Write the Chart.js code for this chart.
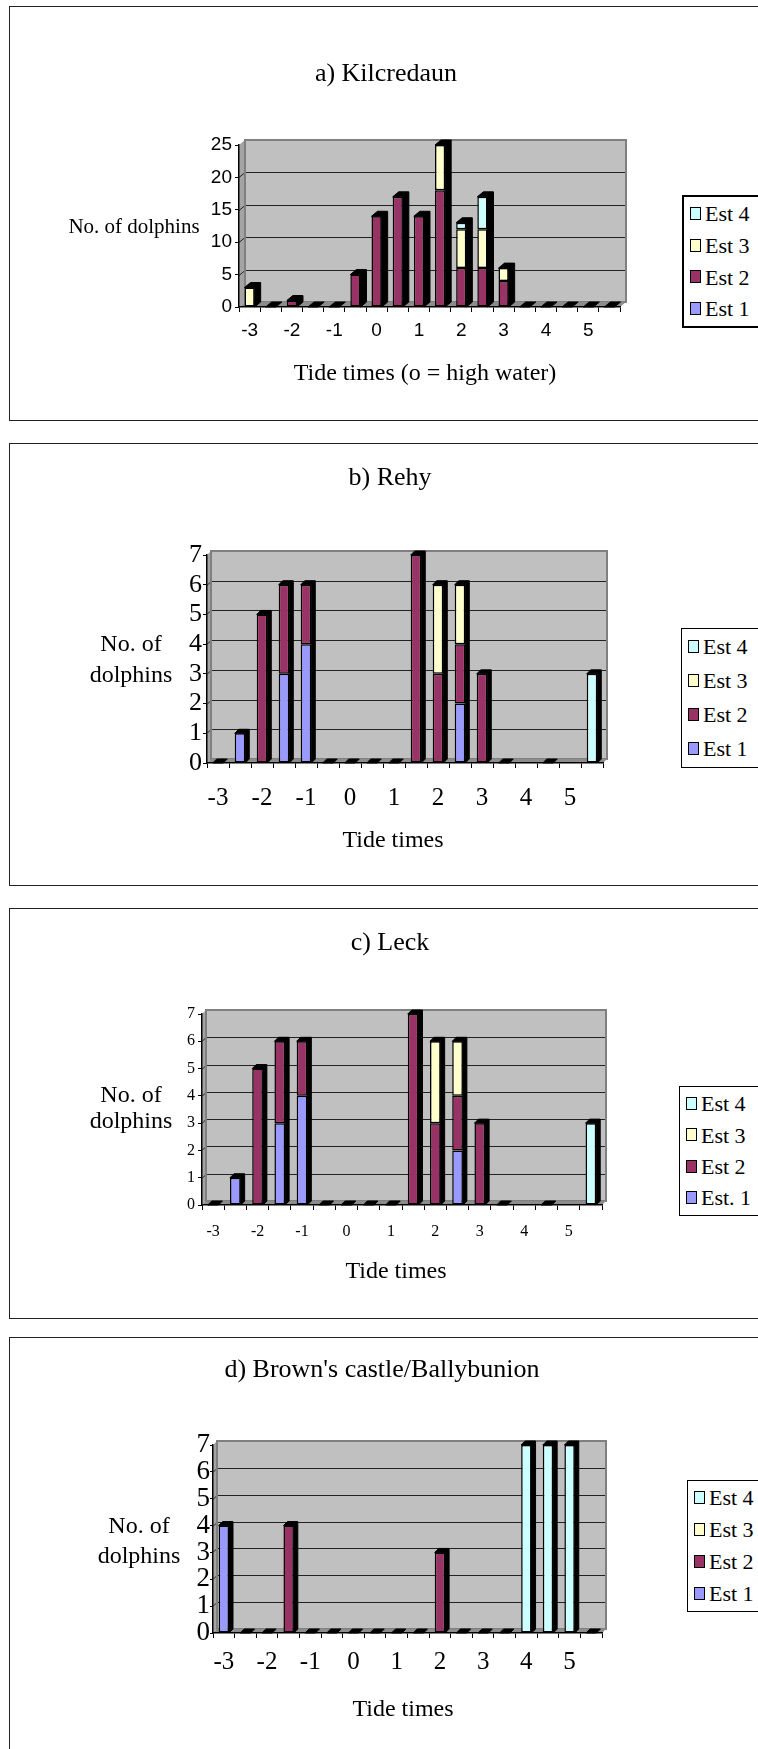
<!DOCTYPE html>
<html>
	<head>
		<meta charset="utf-8">
		<script src="https://cdnjs.cloudflare.com/ajax/libs/Chart.js/4.4.1/chart.umd.min.js"></script>
		<style>
			html, body { margin: 0; padding: 0; background: #fff; overflow: hidden; }
			body { width: 758px; height: 1749px; position: relative; }
			.panel { position: absolute; left: 9px; width: 820px; box-sizing: border-box; border: 1px solid #222; background: #fff; }
			.plot { position: absolute; left: 0; width: 758px; }
			.txt { position: absolute; text-align: center; white-space: nowrap; font-family: "Liberation Serif", "Times New Roman", serif; color: #000; }
			.legend { position: absolute; width: 120px; border: 1px solid #000; background: #fff; padding: 1px 0; font-family: "Liberation Serif", "Times New Roman", serif; font-size: 22px; color: #000; }
			.legend .row { position: relative; white-space: nowrap; }
			.legend .sw { position: absolute; left: 6px; width: 9px; height: 11px; border: 1.5px solid #000; }
			.legend .name { position: absolute; left: 21px; top: 0; }
		</style>
		<script>

			// x categories: half-hour steps from -3 to 5.5, labelled every hour
			var tideLabels = ['-3', '', '-2', '', '-1', '', '0', '', '1', '', '2', '', '3', '', '4', '', '5', ''];

			var estNames = ['Est 1', 'Est 2', 'Est 3', 'Est 4'];
			var leckNames = ['Est. 1', 'Est 2', 'Est 3', 'Est 4'];
			var estColors = ['#9999ff', '#993366', '#ffffcc', '#ccffff'];

			// a) Kilcredaun
			var kilTicks = [0, 5, 10, 15, 20, 25];
			var kilEst1 = [0, 0, 0, 0, 0, 0, 0, 0, 0, 0, 0, 0, 0, 0, 0, 0, 0, 0];
			var kilEst2 = [0, 0, 1, 0, 0, 5, 14, 17, 14, 18, 6, 6, 4, 0, 0, 0, 0, 0];
			var kilEst3 = [3, 0, 0, 0, 0, 0, 0, 0, 0, 7, 6, 6, 2, 0, 0, 0, 0, 0];
			var kilEst4 = [0, 0, 0, 0, 0, 0, 0, 0, 0, 0, 1, 5, 0, 0, 0, 0, 0, 0];

			// b) Rehy  (null = no observation)
			var rehyTicks = [0, 1, 2, 3, 4, 5, 6, 7];
			var rehyEst1 = [0, 1, 0, 3, 4, 0, 0, 0, 0, 0, 0, 2, 0, 0, null, 0, null, 0];
			var rehyEst2 = [0, 0, 5, 3, 2, 0, 0, 0, 0, 7, 3, 2, 3, 0, null, 0, null, 0];
			var rehyEst3 = [0, 0, 0, 0, 0, 0, 0, 0, 0, 0, 3, 2, 0, 0, null, 0, null, 0];
			var rehyEst4 = [0, 0, 0, 0, 0, 0, 0, 0, 0, 0, 0, 0, 0, 0, null, 0, null, 3];

			// c) Leck
			var leckTicks = [0, 1, 2, 3, 4, 5, 6, 7];
			var leckEst1 = [0, 1, 0, 3, 4, 0, 0, 0, 0, 0, 0, 2, 0, 0, null, 0, null, 0];
			var leckEst2 = [0, 0, 5, 3, 2, 0, 0, 0, 0, 7, 3, 2, 3, 0, null, 0, null, 0];
			var leckEst3 = [0, 0, 0, 0, 0, 0, 0, 0, 0, 0, 3, 2, 0, 0, null, 0, null, 0];
			var leckEst4 = [0, 0, 0, 0, 0, 0, 0, 0, 0, 0, 0, 0, 0, 0, null, 0, null, 3];

			// d) Brown's castle/Ballybunion
			var brownTicks = [0, 1, 2, 3, 4, 5, 6, 7];
			var brownEst1 = [4, 0, 0, 0, 0, 0, 0, 0, 0, 0, 0, 0, 0, 0, 0, 0, 0, 0];
			var brownEst2 = [0, 0, 0, 4, 0, 0, 0, 0, 0, 0, 3, 0, 0, 0, 0, 0, 0, 0];
			var brownEst3 = [0, 0, 0, 0, 0, 0, 0, 0, 0, 0, 0, 0, 0, 0, 0, 0, 0, 0];
			var brownEst4 = [0, 0, 0, 0, 0, 0, 0, 0, 0, 0, 0, 0, 0, 0, 7, 7, 7, 0];

			var Y_W = 40;
			var X_H = 70;

			var panels = [
				{ top: 6, height: 415,
					title: 'a) Kilcredaun', titleAt: [386, 73],
					yTitle: ['No. of dolphins'], yTitleAt: [134, 226], yTitleSize: 21, yTitleGap: 0,
					xTitle: 'Tide times (o = high water)', xTitleAt: [425, 372],
					plot: { left: 239, right: 620, top: 145, bottom: 307 }, depth: [6, 5],
					ticks: kilTicks, xFont: { family: 'Liberation Sans', size: 19 }, yFont: { family: 'Liberation Sans', size: 19 },
					yTickLen: 4, yTickPad: 3, xTickY: 331,
					series: [kilEst1, kilEst2, kilEst3, kilEst4], names: estNames,
					legend: { left: 682, firstRow: 214, rowH: 31.7, border: 2 } },
				{ top: 443, height: 443,
					title: 'b) Rehy', titleAt: [390, 477],
					yTitle: ['No. of', 'dolphins'], yTitleAt: [131, 643], yTitleSize: 24, yTitleGap: 31,
					xTitle: 'Tide times', xTitleAt: [393, 839],
					plot: { left: 207, right: 603, top: 555, bottom: 763 }, depth: [4, 4],
					ticks: rehyTicks, xFont: { family: 'Liberation Serif', size: 25 }, yFont: { family: 'Liberation Serif', size: 26 },
					yTickLen: 4, yTickPad: 1, xTickY: 798,
					series: [rehyEst1, rehyEst2, rehyEst3, rehyEst4], names: estNames,
					legend: { left: 681, firstRow: 647, rowH: 34, border: 1 } },
				{ top: 908, height: 411,
					title: 'c) Leck', titleAt: [390, 942],
					yTitle: ['No. of', 'dolphins'], yTitleAt: [131, 1094], yTitleSize: 24, yTitleGap: 26,
					xTitle: 'Tide times', xTitleAt: [396, 1270],
					plot: { left: 202, right: 602, top: 1014, bottom: 1205 }, depth: [4, 4],
					ticks: leckTicks, xFont: { family: 'Liberation Serif', size: 16 }, yFont: { family: 'Liberation Serif', size: 16 },
					yTickLen: 4, yTickPad: 3, xTickY: 1232,
					series: [leckEst1, leckEst2, leckEst3, leckEst4], names: leckNames,
					legend: { left: 679, firstRow: 1104, rowH: 31.3, border: 1 } },
				{ top: 1337, height: 500,
					title: "d) Brown's castle/Ballybunion", titleAt: [382, 1369],
					yTitle: ['No. of', 'dolphins'], yTitleAt: [139, 1525], yTitleSize: 24, yTitleGap: 30,
					xTitle: 'Tide times', xTitleAt: [403, 1708],
					plot: { left: 213, right: 602, top: 1445, bottom: 1633 }, depth: [4, 4],
					ticks: brownTicks, xFont: { family: 'Liberation Serif', size: 25 }, yFont: { family: 'Liberation Serif', size: 27 },
					yTickLen: 3, yTickPad: 0, xTickY: 1662,
					series: [brownEst1, brownEst2, brownEst3, brownEst4], names: estNames,
					legend: { left: 687, firstRow: 1498, rowH: 32, border: 1 } }
			];

			// grey back wall, side wall and floor of the 3-D plot
			var wallPlugin = {
				id: 'wall3d',
				beforeDraw: function (chart) {
					var a = chart.chartArea, ctx = chart.ctx, y = chart.scales.y;
					var dx = chart.options.plugins.wall3d.dx, dy = chart.options.plugins.wall3d.dy;
					ctx.save();
					ctx.fillStyle = '#a4a4a4';
					ctx.beginPath();
					ctx.moveTo(a.left, a.top);
					ctx.lineTo(a.left + dx, a.top - dy);
					ctx.lineTo(a.left + dx, a.bottom - dy);
					ctx.lineTo(a.left, a.bottom);
					ctx.closePath();
					ctx.fill();
					ctx.fillStyle = '#c0c0c0';
					ctx.fillRect(a.left + dx, a.top - dy, a.right - a.left, a.bottom - a.top);
					ctx.strokeStyle = '#222';
					ctx.lineWidth = 1;
					y.ticks.forEach(function (t) {
						if (t.value <= y.min || t.value >= y.max) return;
						var py = Math.round(y.getPixelForValue(t.value)) + 0.5;
						ctx.beginPath();
						ctx.moveTo(a.left, py);
						ctx.lineTo(a.left + dx, py - dy);
						ctx.lineTo(a.right + dx, py - dy);
						ctx.stroke();
					});
					ctx.strokeStyle = '#808080';
					ctx.lineWidth = 2;
					ctx.strokeRect(a.left + dx, a.top - dy, a.right - a.left, a.bottom - a.top);
					ctx.fillStyle = '#8c8c8c';
					ctx.beginPath();
					ctx.moveTo(a.left, a.bottom);
					ctx.lineTo(a.right, a.bottom);
					ctx.lineTo(a.right + dx, a.bottom - dy);
					ctx.lineTo(a.left + dx, a.bottom - dy);
					ctx.closePath();
					ctx.fill();
					ctx.restore();
				}
			};

			// black top and side faces behind every stacked column, flat slab for zero
			var depthPlugin = {
				id: 'depth3d',
				beforeDatasetsDraw: function (chart) {
					var ctx = chart.ctx;
					var dx = chart.options.plugins.wall3d.dx, dy = chart.options.plugins.wall3d.dy;
					var base = chart.scales.y.getPixelForValue(0);
					ctx.save();
					ctx.fillStyle = '#000';
					ctx.strokeStyle = '#000';
					ctx.lineWidth = 1;
					for (var i = 0; i < chart.data.labels.length; i++) {
						var top = null, x = null, w = null;
						chart.data.datasets.forEach(function (ds, k) {
							var v = ds.data[i];
							if (v === null || v === undefined) return;
							var el = chart.getDatasetMeta(k).data[i];
							x = el.x;
							w = el.width;
							if (v > 0) top = (top === null) ? el.y : Math.min(top, el.y);
						});
						if (x === null) continue;
						if (top === null) top = base;
						var l = x - w / 2, r = x + w / 2;
						ctx.beginPath();
						ctx.moveTo(l, top);
						ctx.lineTo(l + dx, top - dy);
						ctx.lineTo(r + dx, top - dy);
						ctx.lineTo(r + dx, base - dy);
						ctx.lineTo(r, base);
						ctx.lineTo(r, top);
						ctx.closePath();
						ctx.fill();
						ctx.stroke();
					}
					ctx.restore();
				}
			};

			function addText(text, cx, cy, size) {
				var el = document.createElement('div');
				el.className = 'txt';
				el.textContent = text;
				el.style.left = (cx - 300) + 'px';
				el.style.width = '600px';
				el.style.top = (cy - size) + 'px';
				el.style.lineHeight = (2 * size) + 'px';
				el.style.fontSize = size + 'px';
				document.body.appendChild(el);
			}

			function addLegend(p) {
				var lg = p.legend;
				var box = document.createElement('div');
				box.className = 'legend';
				box.style.borderWidth = lg.border + 'px';
				box.style.left = lg.left + 'px';
				box.style.top = (lg.firstRow - lg.rowH / 2 - lg.border - 1) + 'px';
				for (var k = p.names.length - 1; k >= 0; k--) {
					var row = document.createElement('div');
					row.className = 'row';
					row.style.height = lg.rowH + 'px';
					var sw = document.createElement('span');
					sw.className = 'sw';
					sw.style.background = estColors[k];
					sw.style.top = (lg.rowH / 2 - 7) + 'px';
					var nm = document.createElement('span');
					nm.className = 'name';
					nm.style.lineHeight = lg.rowH + 'px';
					nm.textContent = p.names[k];
					row.appendChild(sw);
					row.appendChild(nm);
					box.appendChild(row);
				}
				document.body.appendChild(box);
			}

			function drawPanel(p) {
				var frame = document.createElement('div');
				frame.className = 'panel';
				frame.style.top = p.top + 'px';
				frame.style.height = p.height + 'px';
				document.body.appendChild(frame);

				var wrap = document.createElement('div');
				wrap.className = 'plot';
				wrap.style.top = p.top + 'px';
				wrap.style.height = p.height + 'px';
				var canvas = document.createElement('canvas');
				wrap.appendChild(canvas);
				document.body.appendChild(wrap);

				var lh = p.xFont.size * 1.2;
				new Chart(canvas.getContext('2d'), {
					type: 'bar',
					data: {
						labels: tideLabels,
						datasets: p.series.map(function (s, k) {
							return {
								label: p.names[k],
								data: s,
								backgroundColor: estColors[k],
								borderColor: '#000',
								borderWidth: 1.5,
								borderSkipped: false,
								categoryPercentage: 1,
								barPercentage: 0.48
							};
						})
					},
					options: {
						responsive: true,
						maintainAspectRatio: false,
						animation: false,
						layout: {
							padding: {
								left: p.plot.left - Y_W,
								right: 758 - p.plot.right,
								top: p.plot.top - p.top,
								bottom: p.height - (p.plot.bottom - p.top) - X_H
							}
						},
						plugins: {
							legend: { display: false },
							tooltip: { enabled: false },
							wall3d: { dx: p.depth[0], dy: p.depth[1] }
						},
						scales: {
							x: {
								stacked: true,
								offset: true,
								grid: { display: true, drawOnChartArea: false, drawTicks: true, tickLength: 5, color: '#000', offset: true },
								border: { display: true, color: '#000', width: 1.5 },
								ticks: { autoSkip: false, maxRotation: 0, color: '#000', font: p.xFont,
									padding: p.xTickY - p.plot.bottom - 5 - lh / 2 },
								afterFit: function (s) { s.height = X_H; }
							},
							y: {
								stacked: true,
								min: p.ticks[0],
								max: p.ticks[p.ticks.length - 1],
								grid: { drawOnChartArea: false, drawTicks: true, tickLength: p.yTickLen, color: '#000' },
								border: { display: true, color: '#000', width: 1.5 },
								ticks: { autoSkip: false, stepSize: p.ticks[1] - p.ticks[0], color: '#000', font: p.yFont, padding: p.yTickPad },
								afterFit: function (s) { s.width = Y_W; }
							}
						}
					},
					plugins: [wallPlugin, depthPlugin]
				});

				addText(p.title, p.titleAt[0], p.titleAt[1], 26);
				p.yTitle.forEach(function (t, i) {
					addText(t, p.yTitleAt[0], p.yTitleAt[1] + i * p.yTitleGap, p.yTitleSize);
				});
				addText(p.xTitle, p.xTitleAt[0], p.xTitleAt[1], 24);
				addLegend(p);
			}

			function init() {
				panels.forEach(drawPanel);
			}
		</script>
	</head>
	<body onload="init()">
	</body>
</html>
